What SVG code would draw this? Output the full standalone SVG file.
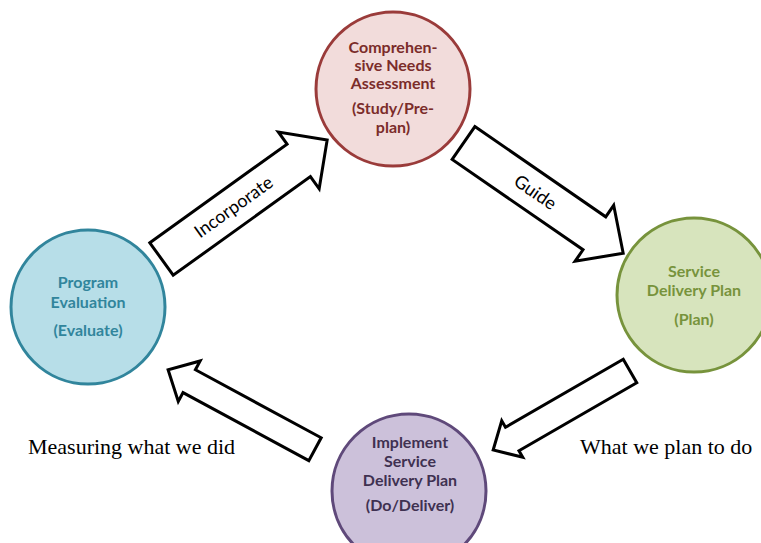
<svg xmlns="http://www.w3.org/2000/svg" width="761" height="543" viewBox="0 0 761 543">
<style>
.node text{font-family:Lato,"Open Sans","DejaVu Sans",sans-serif;font-weight:bold;font-size:16px;text-anchor:middle}
.circ{stroke-width:3}
.arrow polygon{fill:#fff;stroke:#000;stroke-width:3;stroke-linejoin:miter}
.arrow text{font-family:Lato,"Open Sans","DejaVu Sans",sans-serif;font-size:18px;text-anchor:middle;fill:#000}
.note{font-family:"Liberation Serif","Times New Roman",serif;font-size:22px;fill:#000}
</style>
<rect width="761" height="543" fill="#fff"/>
<g id="connectors">
  <g class="arrow" transform="translate(161.5,259) rotate(-35.7)">
    <polygon points="0,-20 169,-20 169,-35 204,0 169,35 169,20 0,20"/>
    <text x="89" y="6">Incorporate</text>
  </g>
  <g class="arrow" transform="translate(463.5,143) rotate(34.6)">
    <polygon points="0,-20 159,-20 159,-34 194,0 159,34 159,20 0,20"/>
    <text x="87" y="6">Guide</text>
  </g>
  <g class="arrow" transform="translate(630,371) rotate(150)">
    <polygon points="0,-13.5 136,-13.5 136,-21 158,0 136,21 136,13.5 0,13.5"/>
  </g>
  <g class="arrow" transform="translate(315,449.2) rotate(-151.6)">
    <polygon points="0,-13 143,-13 143,-23 167,0 143,23 143,13 0,13"/>
  </g>
</g>
<g id="needs" class="node">
  <circle class="circ" cx="393" cy="89" r="77" fill="#F2DCDB" stroke="#9A3B3A"/>
  <g fill="#7B2C2A">
    <text x="393" y="53">Comprehen-</text>
    <text x="393" y="71">sive Needs</text>
    <text x="393" y="89">Assessment</text>
    <text x="393" y="114">(Study/Pre-</text>
    <text x="393" y="133">plan)</text>
  </g>
</g>
<g id="evaluation" class="node">
  <circle class="circ" cx="88" cy="307" r="77" fill="#B7DEE8" stroke="#31859C"/>
  <g fill="#31859C">
    <text x="88" y="288">Program</text>
    <text x="88" y="308">Evaluation</text>
    <text x="88" y="336">(Evaluate)</text>
  </g>
</g>
<g id="plan" class="node">
  <circle class="circ" cx="694" cy="295" r="77" fill="#D7E4BD" stroke="#77933C"/>
  <g fill="#77933C">
    <text x="694" y="277">Service</text>
    <text x="694" y="296">Delivery Plan</text>
    <text x="694" y="325">(Plan)</text>
  </g>
</g>
<g id="implement" class="node">
  <circle class="circ" cx="409" cy="491" r="77" fill="#CCC1DA" stroke="#5F497A"/>
  <g fill="#3F3151">
    <text x="410" y="448">Implement</text>
    <text x="410" y="467">Service</text>
    <text x="410" y="486">Delivery Plan</text>
    <text x="410" y="511">(Do/Deliver)</text>
  </g>
</g>
<text class="note" x="28" y="454">Measuring what we did</text>
<text class="note" x="580" y="454">What we plan to do</text>
</svg>
